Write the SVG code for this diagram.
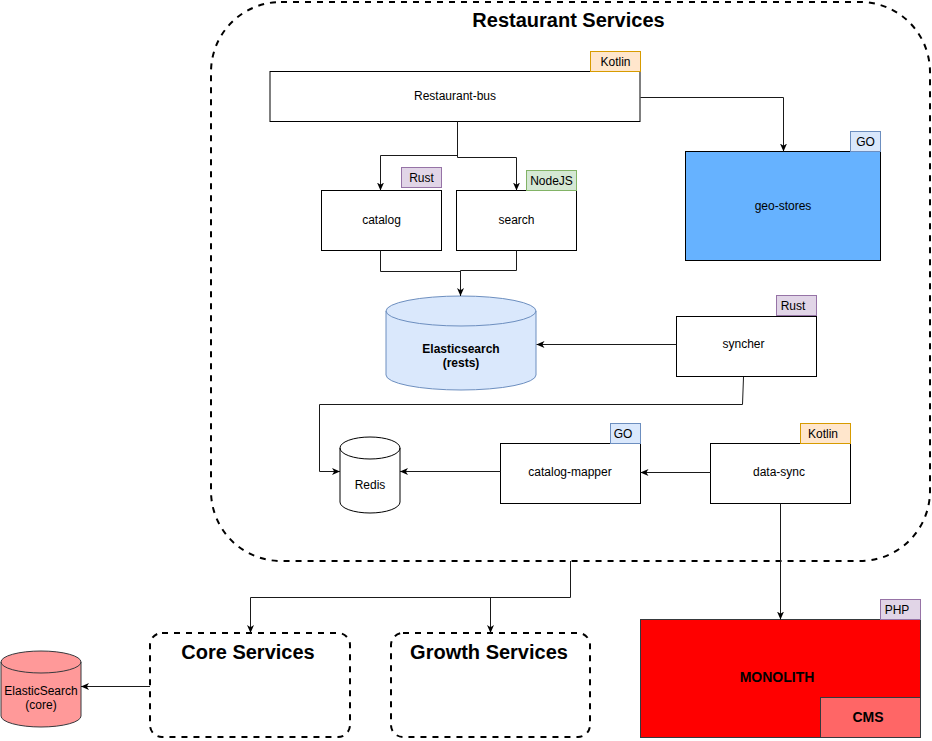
<svg xmlns="http://www.w3.org/2000/svg" width="932" height="741" viewBox="0 0 932 741">
<defs>
<marker id="arr" markerUnits="userSpaceOnUse" markerWidth="8" markerHeight="8" viewBox="0 0 8 8" refX="8" refY="4" orient="auto">
<path d="M0,0.5 L8,4 L0,7.5 L2.2,4 Z" fill="#000"/>
</marker>
<style>
text{font-family:"Liberation Sans",Arial,sans-serif;fill:#000;text-anchor:middle}
.t12{font-size:12px}
.b12{font-size:12px;font-weight:bold}
.b14{font-size:14px;font-weight:bold}
.b20{font-size:20px;font-weight:bold}
.box{fill:#fff;stroke:#000;stroke-width:1}
.grp{fill:none;stroke:#000;stroke-width:2;stroke-dasharray:6 6}
.edge{fill:none;stroke:#1a1a1a;stroke-width:1;marker-end:url(#arr)}
.line{fill:none;stroke:#1a1a1a;stroke-width:1}
.kotlin{fill:#ffe6cc;stroke:#d79b00}
.rust{fill:#e1d5e7;stroke:#9673a6}
.node{fill:#d5e8d4;stroke:#82b366}
.go{fill:#dae8fc;stroke:#6c8ebf}
</style>
</defs>

<g id="restaurant-services">
<rect class="grp" x="211" y="2" width="719" height="559" rx="70" ry="70"/>
<text class="b20" x="568.5" y="27">Restaurant Services</text>
</g>

<g id="restaurant-bus">
<rect class="box" x="270" y="71.5" width="370" height="50"/>
<text class="t12" x="455" y="100">Restaurant-bus</text>
<rect class="kotlin" x="590.5" y="51.5" width="50" height="20"/>
<text class="t12" x="615.5" y="66">Kotlin</text>
</g>

<g id="catalog">
<rect class="box" x="321.5" y="190.5" width="120" height="60"/>
<text class="t12" x="381.5" y="224">catalog</text>
<rect class="rust" x="401.5" y="167.5" width="40" height="20"/>
<text class="t12" x="421.5" y="182">Rust</text>
</g>

<g id="search">
<rect class="box" x="456.5" y="190.5" width="120" height="60"/>
<text class="t12" x="516.5" y="224">search</text>
<rect class="node" x="526.5" y="170.5" width="50" height="20"/>
<text class="t12" x="551.5" y="185">NodeJS</text>
</g>

<g id="geo-stores">
<rect x="685.5" y="151.5" width="195" height="109" fill="#66b2ff" stroke="#000"/>
<text class="t12" x="783" y="210">geo-stores</text>
<rect class="go" x="850.5" y="131.5" width="30" height="20"/>
<text class="t12" x="865.5" y="146">GO</text>
</g>

<g id="elasticsearch-rests">
<path d="M386,311 A75,15 0 0 1 536,311 V375 A75,15 0 0 1 386,375 Z" fill="#dae8fc" stroke="#6c8ebf"/>
<path d="M386,311 A75,15 0 0 0 536,311" fill="none" stroke="#6c8ebf"/>
<text class="b12" x="461" y="353">Elasticsearch</text>
<text class="b12" x="461" y="367">(rests)</text>
</g>

<g id="syncher">
<rect class="box" x="676.5" y="316.5" width="140" height="60"/>
<text class="t12" x="743.5" y="348">syncher</text>
<rect class="rust" x="776.5" y="295.5" width="40" height="20"/>
<text class="t12" x="793" y="310">Rust</text>
</g>

<g id="redis">
<path d="M340,448 A30,11 0 0 1 400,448 V502 A30,11 0 0 1 340,502 Z" fill="#fff" stroke="#000"/>
<path d="M340,448 A30,11 0 0 0 400,448" fill="none" stroke="#000"/>
<text class="t12" x="370" y="489">Redis</text>
</g>

<g id="catalog-mapper">
<rect class="box" x="500.5" y="443.5" width="140" height="60"/>
<text class="t12" x="570" y="476">catalog-mapper</text>
<rect class="go" x="610.5" y="423.5" width="30" height="20"/>
<text class="t12" x="623" y="438">GO</text>
</g>

<g id="data-sync">
<rect class="box" x="710.5" y="443.5" width="140" height="60"/>
<text class="t12" x="779" y="476">data-sync</text>
<rect class="kotlin" x="800.5" y="423.5" width="50" height="20"/>
<text class="t12" x="823" y="438">Kotlin</text>
</g>

<g id="monolith">
<rect x="640.5" y="619.5" width="280" height="118" fill="#ff0000" stroke="#36393d"/>
<text class="b14" x="777" y="682">MONOLITH</text>
<rect x="820.5" y="697.5" width="100" height="40" fill="#ff6666" stroke="#36393d"/>
<text class="b14" x="868" y="722">CMS</text>
<rect class="rust" x="880.5" y="599.5" width="40" height="20"/>
<text class="t12" x="897" y="614">PHP</text>
</g>

<g id="core-services">
<rect class="grp" x="150" y="633" width="200" height="104" rx="12" ry="12"/>
<text class="b20" x="248" y="659">Core Services</text>
</g>

<g id="growth-services">
<rect class="grp" x="391" y="633" width="199" height="104" rx="12" ry="12"/>
<text class="b20" x="489" y="659">Growth Services</text>
</g>

<g id="elasticsearch-core">
<path d="M1,662 A40,11 0 0 1 81,662 V716 A40,11 0 0 1 1,716 Z" fill="#ff9999" stroke="#36393d"/>
<path d="M1,662 A40,11 0 0 0 81,662" fill="none" stroke="#36393d"/>
<text class="t12" x="41" y="695">ElasticSearch</text>
<text class="t12" x="41" y="709">(core)</text>
</g>

<g id="connectors">
<path class="edge" d="M457.5,121.5 V155.5 H380.5 V190.5"/>
<path class="edge" d="M457.5,121.5 V157.5 H516.5 V190.5"/>
<path class="edge" d="M640.5,97.5 H783.5 V151.5"/>
<path class="line" d="M380.5,250.5 V271.5 H460.5"/>
<path class="edge" d="M516.5,250.5 V270.5 H460.5 V296"/>
<path class="edge" d="M676.5,344.5 H536.5"/>
<path class="edge" d="M743.5,377 L742.5,404.5 H319.5 V471.5 H340"/>
<path class="edge" d="M500.5,471.5 H400"/>
<path class="edge" d="M710.5,472.5 H640.5"/>
<path class="edge" d="M780.5,503.5 V619.5"/>
<path class="edge" d="M570.5,561 V597.5 H250.5 V633"/>
<path class="edge" d="M490.5,597.5 V633"/>
<path class="edge" d="M150,686.5 H81"/>
</g>
</svg>
